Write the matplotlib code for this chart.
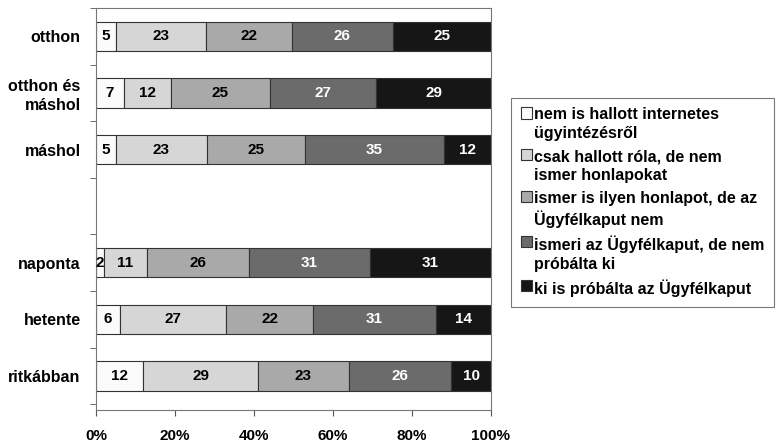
import numpy as np
import matplotlib
matplotlib.use("Agg")
import matplotlib.pyplot as plt

plt.rcParams['font.family'] = ['Liberation Sans', 'DejaVu Sans']
plt.rcParams['font.weight'] = 'bold'

# kategóriák (üres sor a két csoport között)
kategoriak = ["otthon", "otthon és\nmáshol", "máshol", "", "naponta", "hetente", "ritkábban"]

sorozatok = [
    "nem is hallott internetes\nügyintézésről",
    "csak hallott róla, de nem\nismer honlapokat",
    "ismer is ilyen honlapot, de az\nÜgyfélkaput nem",
    "ismeri az Ügyfélkaput, de nem\npróbálta ki",
    "ki is próbálta az Ügyfélkaput",
]

nem_hallott = [5, 7, 5, None, 2, 6, 12]
csak_hallott = [23, 12, 23, None, 11, 27, 29]
ismer_honlapot = [22, 25, 25, None, 26, 22, 23]
ismeri_ugyfelkaput = [26, 27, 35, None, 31, 31, 26]
kiprobalta = [25, 29, 12, None, 31, 14, 10]

szinek = ["#fbfbfb", "#d6d6d6", "#a9a9a9", "#6b6b6b", "#161616"]
szovegszin = ["black", "black", "black", "white", "white"]

adatok = [nem_hallott, csak_hallott, ismer_honlapot, ismeri_ugyfelkaput, kiprobalta]

fig = plt.figure(figsize=(7.78, 4.45), dpi=100)
ax = fig.add_axes([0.1234, 0.079, 0.5077, 0.903])

y = np.arange(len(kategoriak))
for i in range(len(kategoriak)):
    ertekek = [s[i] for s in adatok]
    if ertekek[0] is None:
        continue
    osszeg = sum(ertekek)
    bal = 0.0
    for j, v in enumerate(ertekek):
        w = v / osszeg * 100
        ax.barh(i, w, left=bal, height=0.52, color=szinek[j],
                edgecolor="#333333", linewidth=0.8,
                label=sorozatok[j] if i == 0 else None)
        ax.text(bal + w / 2, i, str(v), ha="center", va="center",
                fontsize=11, fontweight="bold", color=szovegszin[j])
        bal += w

ax.set_xlim(0, 100)
ax.set_ylim(6.6, -0.5)
ax.set_xticks([0, 20, 40, 60, 80, 100])
ax.set_xticklabels(["0%", "20%", "40%", "60%", "80%", "100%"], fontsize=11)
ax.set_yticks(y)
ax.set_yticklabels(kategoriak, fontsize=11.5, linespacing=1.3)
ax.set_yticks(np.arange(-0.5, 6.6, 1.0), minor=True)
ax.tick_params(axis="y", which="major", length=0, pad=11)
ax.tick_params(axis="y", which="minor", length=4, color="#555555")
ax.tick_params(axis="x", length=4, color="#555555", pad=10)
for s in ax.spines.values():
    s.set_color("#777777")
    s.set_linewidth(0.8)

leg = fig.legend(loc="upper left", bbox_to_anchor=(0.657, 0.78),
                 fontsize=11.5, frameon=True, fancybox=False, edgecolor="#555555",
                 handlelength=0.7, handleheight=0.7, handletextpad=0.15,
                 labelspacing=0.5, borderpad=0.6, borderaxespad=0)
leg.get_frame().set_linewidth(0.8)
# a jelölő négyzet a felirat első sorához igazodjon
for oszlop in leg._legend_handle_box.get_children():
    for sor in oszlop.get_children():
        sor.align = "top"
for t in leg.get_texts():
    t.set_linespacing(1.3)

fig.savefig("out.png", dpi=100)
